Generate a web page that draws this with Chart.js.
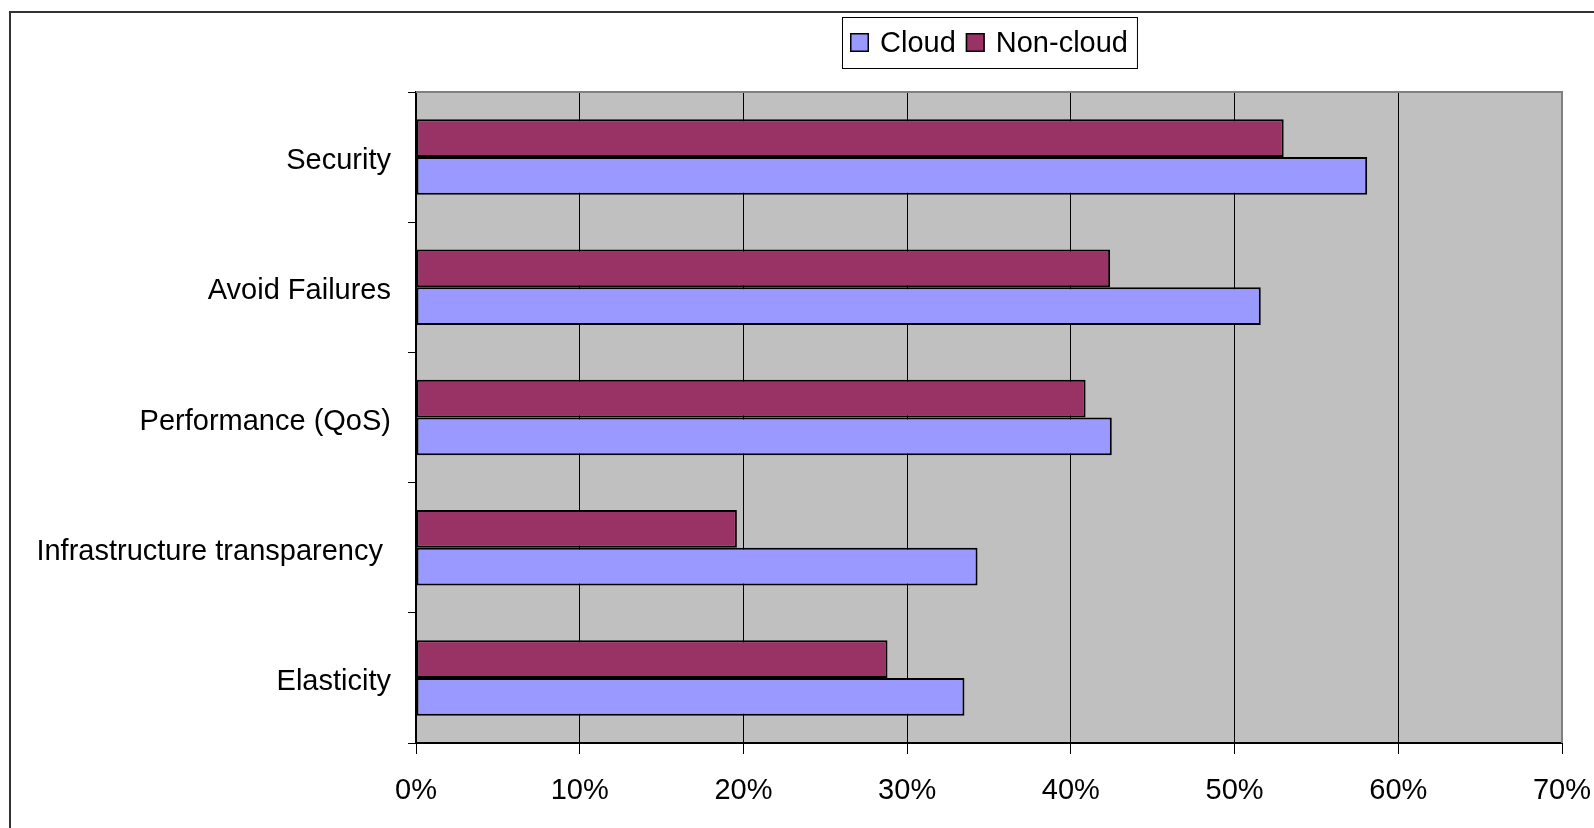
<!DOCTYPE html>
<html>
<head>
<meta charset="utf-8">
<title>Cloud vs Non-cloud</title>
<script src="https://cdn.jsdelivr.net/npm/chart.js@4.4.1/dist/chart.umd.min.js"></script>
<style>
	html, body { margin: 0; padding: 0; background: #fff; }
	#mycanvas { display: block; }
</style>
</head>
<body>
<canvas id="mycanvas" width="1594" height="828"></canvas>
<script>
var categories = ['Security', 'Avoid Failures', 'Performance (QoS)', 'Infrastructure transparency ', 'Elasticity'];
var cloud = [58.1, 51.6, 42.5, 34.3, 33.5];
var nonCloud = [53.0, 42.4, 40.9, 19.6, 28.8];
var xMin = 0, xMax = 70, xStep = 10;

var FONT = '"Liberation Sans", Arial, sans-serif';

// grey plot area, grey top/right edge, outer frame and boxed legend
var frame = {
	id: 'frame',
	beforeDraw: function(chart) {
		var a = chart.chartArea, ctx = chart.ctx;
		ctx.save();
		ctx.fillStyle = '#c0c0c0';
		ctx.fillRect(a.left, a.top, a.right - a.left, a.bottom - a.top);
		ctx.restore();
	},
	afterDraw: function(chart) {
		var a = chart.chartArea, ctx = chart.ctx;
		ctx.save();
		ctx.strokeStyle = '#808080';
		ctx.lineWidth = 2;
		ctx.beginPath();
		ctx.moveTo(a.left, a.top);
		ctx.lineTo(a.right, a.top);
		ctx.lineTo(a.right, a.bottom);
		ctx.stroke();

		ctx.strokeStyle = '#333';
		ctx.lineWidth = 2;
		ctx.strokeRect(10, 12, 1620, 900);

		// legend
		ctx.font = '29px ' + FONT;
		var items = chart.data.datasets.slice().reverse();
		var pad = 8, sq = 19, gap = 11, itemGap = 10, padR = 9;
		var total = pad + padR;
		for (var i = 0; i < items.length; i++) {
			total += sq + gap + ctx.measureText(items[i].label).width;
			if (i > 0) total += itemGap;
		}
		var top = 17, h = 51;
		var left = Math.round((a.left + a.right) / 2 - total / 2);
		ctx.fillStyle = '#fff';
		ctx.fillRect(left, top, total, h);
		ctx.strokeStyle = '#000';
		ctx.lineWidth = 1;
		ctx.strokeRect(left + 0.5, top + 0.5, total, h);
		var x = left + pad;
		ctx.textBaseline = 'middle';
		for (var j = 0; j < items.length; j++) {
			var sy = top + (h - sq) / 2;
			ctx.fillStyle = items[j].backgroundColor;
			ctx.fillRect(x, sy, sq, sq);
			ctx.lineWidth = 1.5;
			ctx.strokeRect(x + 0.75, sy + 0.75, sq - 1.5, sq - 1.5);
			x += sq + gap;
			ctx.fillStyle = '#000';
			ctx.fillText(items[j].label, x, top + h / 2 + 1);
			x += ctx.measureText(items[j].label).width + itemGap;
		}
		ctx.restore();
	}
};

var chartdata = {
	labels: categories,
	datasets: [
		{
			label: 'Non-cloud',
			backgroundColor: '#993366',
			borderColor: '#000',
			borderWidth: 2,
			borderSkipped: false,
			data: nonCloud
		},
		{
			label: 'Cloud',
			backgroundColor: '#9999ff',
			borderColor: '#000',
			borderWidth: 2,
			borderSkipped: false,
			data: cloud
		}
	]
};

var ctx = document.getElementById('mycanvas');

var barGraph = new Chart(ctx, {
	type: 'bar',
	data: chartdata,
	plugins: [frame],
	options: {
		indexAxis: 'y',
		responsive: false,
		animation: false,
		devicePixelRatio: 1,
		categoryPercentage: 0.58,
		barPercentage: 1.0,
		layout: { padding: { top: 92, right: 32, left: 0, bottom: 0 } },
		plugins: {
			legend: { display: false },
			tooltip: { enabled: false }
		},
		scales: {
			x: {
				type: 'linear',
				min: xMin,
				max: xMax,
				afterFit: function(scale) {
					scale.height = 85;
					scale.paddingRight = 0;
					scale.paddingLeft = 0;
				},
				ticks: {
					stepSize: xStep,
					padding: 20,
					color: '#000',
					font: { family: FONT, size: 29 },
					callback: function(v) { return v + '%'; }
				},
				grid: {
					color: function(c) { return c.tick && c.tick.value === xMax ? '#808080' : '#000'; },
					lineWidth: 1,
					tickLength: 11,
					tickColor: '#000'
				},
				border: { display: true, color: '#000', width: 2 }
			},
			y: {
				afterFit: function(scale) { scale.width = 416; },
				ticks: {
					padding: 17,
					labelOffset: 4,
					color: '#000',
					font: { family: FONT, size: 29 }
				},
				grid: {
					drawOnChartArea: false,
					tickLength: 8,
					tickColor: '#000',
					lineWidth: 1
				},
				border: { display: true, color: '#000', width: 2 }
			}
		}
	}
});
</script>
</body>
</html>
